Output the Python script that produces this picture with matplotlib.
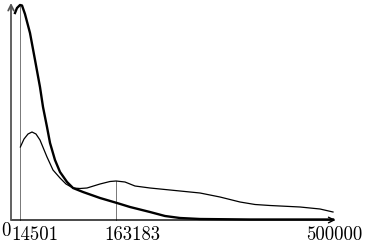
import matplotlib
matplotlib.use("Agg")
import matplotlib.pyplot as plt

# thick curve
thick_x = [6200, 9300, 14000, 17100, 21700, 29500, 37300, 45000, 49700, 55900,
           60600, 68300, 76100, 87000, 96300, 111800, 138200, 164600, 184800,
           215800, 239100, 262400, 293500, 371100, 500000]
thick_y = [207, 212, 215, 214.5, 206, 187, 160, 133, 113, 93,
           77, 60, 48, 38, 32, 28, 22, 17, 13,
           8, 4, 2, 1, 0.5, 0.5]

# thin curve
thin_x = [14501, 20200, 26400, 32600, 38800, 45000, 55900, 65200, 76100, 85400,
          96300, 107100, 118000, 138200, 153700, 163183, 177000, 192500,
          215800, 246900, 293500, 324500, 355600, 378900, 402200, 448800,
          479800, 500000]
thin_y = [73, 81, 86, 88, 86, 80, 63, 50, 42, 36,
          32, 31.5, 32, 36, 38.5, 39, 38, 34,
          32, 30, 27, 23, 18, 15.5, 14.5, 13,
          11, 8]

marks = [14501, 163183]
mark_heights = [215, 39]
tick_labels = ["14501", "163183", "500000"]
tick_pos = [14501, 163183, 500000]
tick_offsets = [15, 16, 1]

plt.rcParams['font.family'] = 'serif'
plt.rcParams['font.serif'] = ['cmr10']

fig = plt.figure(figsize=(3.68, 2.48), dpi=100)
ax = fig.add_axes([0, 0, 1, 1])
ax.set_xlim(-17081, 554348)
ax.set_ylim(-28, 220)
ax.axis('off')

for m, h in zip(marks, mark_heights):
    ax.plot([m, m], [0, h], color='#777777', lw=0.7)

ax.plot(thin_x, thin_y, color='black', lw=0.9)
ax.plot(thick_x, thick_y, color='black', lw=1.7)

ax.annotate('', xy=(504000, 0), xytext=(0, 0),
            arrowprops=dict(arrowstyle='->', lw=1.0, color='black',
                            shrinkA=0, shrinkB=0))
ax.annotate('', xy=(0, 217), xytext=(0, 0),
            arrowprops=dict(arrowstyle='->', lw=1.3, color='#555555',
                            shrinkA=0, shrinkB=0))

ax.annotate('0', xy=(0, 0), xytext=(-5, -2), textcoords='offset pixels',
            ha='center', va='top', fontsize=13.5)
for p, lab, off in zip(tick_pos, tick_labels, tick_offsets):
    ax.annotate(lab, xy=(p, 0), xytext=(off, -6), textcoords='offset pixels',
                ha='center', va='top', fontsize=13.5)

fig.savefig('out.png', dpi=100)
